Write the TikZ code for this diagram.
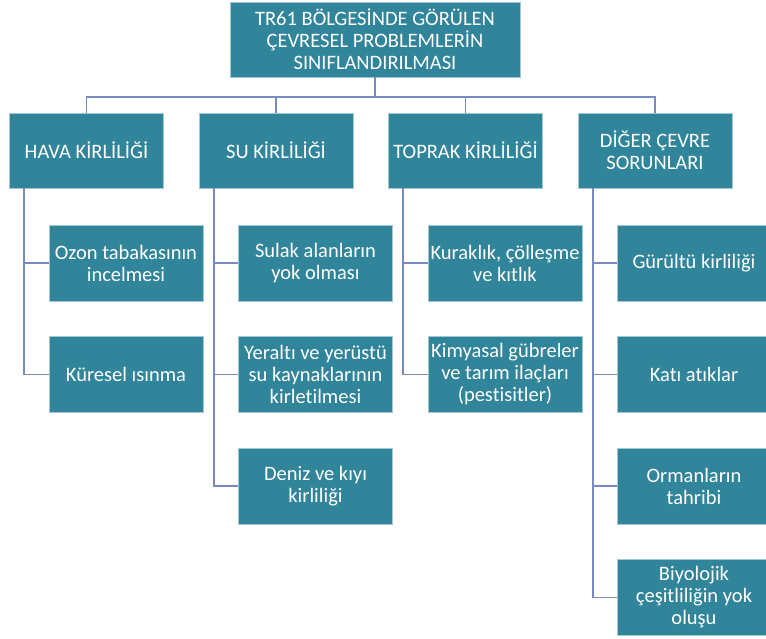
\documentclass[tikz,border=0pt]{standalone}
\usepackage{fontspec}
\setmainfont{Carlito}[Ligatures=NoCommon]
\usetikzlibrary{positioning}

\definecolor{boxteal}{RGB}{49,133,155}
\definecolor{linkblue}{RGB}{122,138,192}

\begin{document}
\begin{tikzpicture}[x=1pt, y=-1pt,
    box/.style={fill=boxteal, draw=boxteal!45!white, line width=0.5pt, text=white,
        minimum width=154pt, minimum height=76pt, align=center, inner sep=1pt,
        font=\fontsize{20.5}{22}\selectfont},
    link/.style={draw=linkblue, line width=1.8pt}]

    \useasboundingbox (0,0) rectangle (766,638);

    % Title
    \node [box, minimum width=290pt, minimum height=75pt] (title) at (375,39.5)
        {TR61 BÖLGESİNDE GÖRÜLEN\\ÇEVRESEL PROBLEMLERİN\\SINIFLANDIRILMASI};

    % Main groups
    \node [box, minimum height=75pt] (hava)   at (86.5,150.5) {HAVA KİRLİLİĞİ};
    \node [box, minimum height=75pt] (su)     at (276,150.5)  {SU KİRLİLİĞİ};
    \node [box, minimum height=75pt] (toprak) at (465.5,150.5) {TOPRAK KİRLİLİĞİ};
    \node [box, minimum height=75pt] (diger)  at (655,150.5)  {DİĞER ÇEVRE\\SORUNLARI};

    \coordinate (bus) at (375,97);
    \draw [link] (title.south) -- (bus);
    \foreach \n in {hava, su, toprak, diger}
        \draw [link] (bus) -| (\n.north);

    % Hava
    \node [box] (ozon) at (126,263) {Ozon tabakasının\\incelmesi};
    \node [box, below=35pt of ozon] (isinma) {Küresel ısınma};

    % Su
    \node [box] (sulak) at (315.5,263) {Sulak alanların\\yok olması};
    \node [box, below=35pt of sulak] (yeralti) {Yeraltı ve yerüstü\\su kaynaklarının\\kirletilmesi};
    \node [box, below=35pt of yeralti] (deniz) {Deniz ve kıyı\\kirliliği};

    % Toprak
    \node [box] (kuraklik) at (505,263) {Kuraklık, çölleşme\\ve kıtlık};
    \node [box, below=35pt of kuraklik] (kimyasal) {Kimyasal gübreler\\ve tarım ilaçları\\(pestisitler)};

    % Diger
    \node [box] (gurultu) at (694,263) {Gürültü kirliliği};
    \node [box, below=35pt of gurultu] (kati) {Katı atıklar};
    \node [box, below=35pt of kati] (orman) {Ormanların\\tahribi};
    \node [box, below=35pt of orman] (biyo) {Biyolojik\\çeşitliliğin yok\\oluşu};

    % Branches
    \foreach \p/\c in {hava/ozon, hava/isinma, su/sulak, su/yeralti, su/deniz,
        toprak/kuraklik, toprak/kimyasal, diger/gurultu, diger/kati, diger/orman, diger/biyo}
        \draw [link] ([xshift=15pt]\p.south west) |- (\c.west);

\end{tikzpicture}
\end{document}
